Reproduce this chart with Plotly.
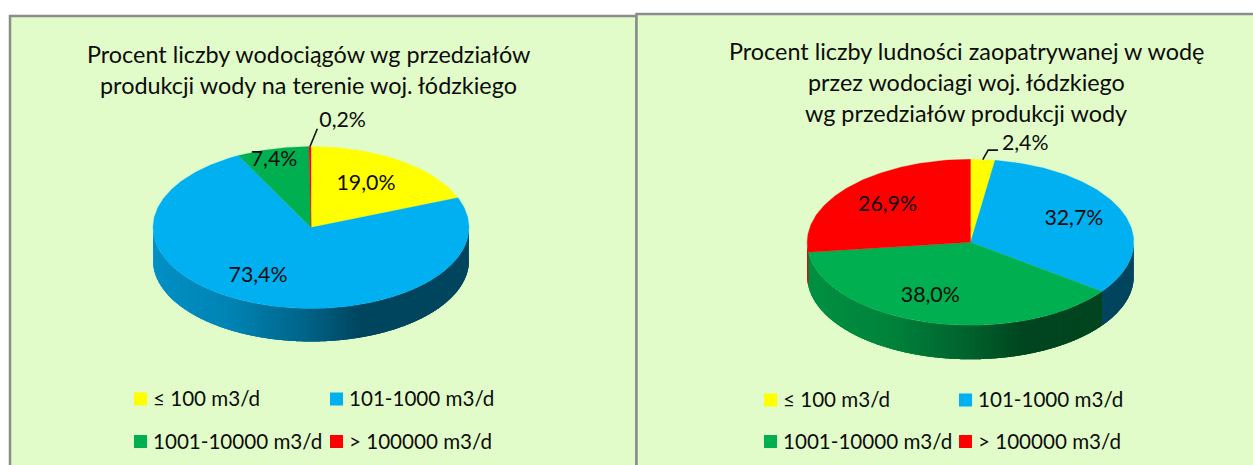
import numpy as np
import plotly.graph_objects as go

# ---------- data ----------
categories = ["≤ 100 m3/d", "101-1000 m3/d", "1001-10000 m3/d", "> 100000 m3/d"]
left_values = [19.0, 73.4, 7.4, 0.2]
right_values = [2.4, 32.7, 38.0, 26.9]
left_title = ["Procent liczby wodociągów wg przedziałów",
              "produkcji wody na terenie woj. łódzkiego"]
right_title = ["Procent liczby ludności zaopatrywanej w wodę",
               "przez wodociagi woj. łódzkiego",
               "wg przedziałów produkcji wody"]

# ---------- style / placement ----------
W, H = 1253, 465
FONT = "Lato, Carlito, Calibri, sans-serif"
TXT = "#0c0c0c"
BG = "#E1FCC8"
BORDER = "#8C8C8C"
colors = [(255, 255, 0), (0, 176, 240), (0, 176, 80), (255, 0, 0)]


def rgb(c, k=1.0):
    return "rgb(%d,%d,%d)" % tuple(round(v * k) for v in c)


def fmt(v):
    return f"{v:.1f}".replace(".", ",") + "%"


fig = go.Figure()


def add_pie(values, ax, cx, cy, rx, ry, depth, label_pos, leader_pts):
    xa, ya = f"x{ax}", f"y{ax}"
    d = depth / ry
    cum = np.concatenate([[0], np.cumsum(values)]) * 3.6
    # side wall (visible half only); each strip overlaps the next so no seams show
    for i in range(len(values)):
        a, b = max(cum[i], 90.0), min(cum[i + 1], 270.0)
        if b <= a:
            continue
        edges = np.linspace(a, b, max(2, int(np.ceil(b - a)) + 1))
        for t0, t1 in zip(edges[:-1], edges[1:]):
            th = np.radians(np.linspace(t0, min(t1 + 1.5, 270.0), 5))
            sx, sy = np.sin(th), np.cos(th)
            t = (np.sin(np.radians((t0 + t1) / 2)) + 1) / 2
            k = np.interp(t, [0, .25, .5, .66, 1], [.82, .745, .55, .39, .39])
            fig.add_trace(go.Scatter(
                x=np.r_[sx, sx[::-1]], y=np.r_[sy, sy[::-1] - d],
                xaxis=xa, yaxis=ya, mode="none", fill="toself",
                fillcolor=rgb(colors[i], float(k)),
                hoverinfo="skip", showlegend=False))
    # top face
    for i, v in enumerate(values):
        n = max(3, int(np.ceil(cum[i + 1] - cum[i])) + 1)
        th = np.radians(np.linspace(cum[i], cum[i + 1], n))
        fig.add_trace(go.Scatter(
            x=np.r_[0, np.sin(th), 0], y=np.r_[0, np.cos(th), 0],
            xaxis=xa, yaxis=ya, mode="lines", fill="toself",
            fillcolor=rgb(colors[i]), line=dict(color=rgb(colors[i]), width=0.3),
            name=categories[i], hoverinfo="name", showlegend=False))
    # leader line from the rim at the slice's mid angle
    idx = leader_pts[0]
    mid = np.radians((cum[idx] + cum[idx + 1]) / 2)
    lx = [np.sin(mid)] + [p[0] for p in leader_pts[1]]
    ly = [np.cos(mid)] + [p[1] for p in leader_pts[1]]
    fig.add_trace(go.Scatter(x=lx, y=ly, xaxis=xa, yaxis=ya, mode="lines",
                             line=dict(color="#111111", width=1.6),
                             hoverinfo="skip", showlegend=False))
    # value labels
    fig.add_trace(go.Scatter(
        x=[p[0] for p in label_pos], y=[p[1] for p in label_pos],
        text=[fmt(v) for v in values], xaxis=xa, yaxis=ya, mode="text",
        textposition="middle center",
        textfont=dict(family=FONT, size=21.3, color=TXT),
        hoverinfo="skip", showlegend=False))
    fig.update_layout({
        f"xaxis{ax}": dict(domain=[(cx - 1.5 * rx) / W, (cx + 1.5 * rx) / W],
                           range=[-1.5, 1.5], visible=False, fixedrange=True),
        f"yaxis{ax}": dict(domain=[1 - (cy + 2 * ry) / H, 1 - (cy - 2 * ry) / H],
                           range=[-2, 2], visible=False, fixedrange=True),
    })


add_pie(left_values, 2, 311, 227.5, 158, 81, 33,
        label_pos=[(.348, .53), (-.335, -.605), (-.234, .82), (.2, 1.31)],
        leader_pts=(3, [(.04, 1.22)]))
add_pie(right_values, 3, 970.5, 242.3, 163.3, 83, 34,
        label_pos=[(.335, 1.18), (.633, .277), (-.246, -.65), (-.508, .44)],
        leader_pts=(0, [(.108, 1.11), (.168, 1.11)]))

# ---------- legends, drawn on a figure-wide axis pair ----------
annotations = []
legend_x = {"left": [140.5, 336.5], "right": [770.5, 965.5]}
legend_y = {"left": [399, 441.5], "right": [400, 441.5]}
for side in ("left", "right"):
    for i, cat in enumerate(categories):
        row, col = i // 2, i % 2
        sx, sy = legend_x[side][col], legend_y[side][row]
        fig.add_trace(go.Scatter(
            x=[sx], y=[sy], xaxis="x", yaxis="y", mode="markers", name=cat,
            marker=dict(symbol="square", size=13, color=rgb(colors[i])),
            hoverinfo="name", showlegend=False))
        annotations.append(dict(text=cat, xref="x", yref="y", x=sx + 10.5, y=sy - 1,
                                showarrow=False, xanchor="left", yanchor="middle",
                                font=dict(family=FONT, size=20.6, color=TXT)))

for lines, cx, ys in ((left_title, 308, [54, 85]),
                      (right_title, 966, [51, 82, 113])):
    for line, y in zip(lines, ys):
        annotations.append(dict(text=line, xref="x", yref="y", x=cx, y=y,
                                showarrow=False, xanchor="center", yanchor="middle",
                                font=dict(family=FONT, size=23.4, color=TXT)))

shapes = [
    dict(type="rect", xref="paper", yref="paper", layer="below",
         x0=10 / W, x1=636.5 / W, y0=-0.02, y1=1 - 16 / H,
         fillcolor=BG, line=dict(color=BORDER, width=2.5)),
    dict(type="rect", xref="paper", yref="paper", layer="below",
         x0=636.5 / W, x1=1.02, y0=-0.02, y1=1 - 14 / H,
         fillcolor=BG, line=dict(color=BORDER, width=2.5)),
]

fig.update_layout(
    width=W, height=H, margin=dict(l=0, r=0, t=0, b=0),
    paper_bgcolor="white", plot_bgcolor="rgba(0,0,0,0)",
    showlegend=False, shapes=shapes, annotations=annotations,
    xaxis=dict(domain=[0, 1], range=[0, W], visible=False, fixedrange=True),
    yaxis=dict(domain=[0, 1], range=[H, 0], visible=False, fixedrange=True),
    font=dict(family=FONT, color=TXT),
)

fig.write_html("out.html", config=dict(displayModeBar=False),
               post_script="document.body.style.margin='0';document.body.style.overflow='hidden';")
